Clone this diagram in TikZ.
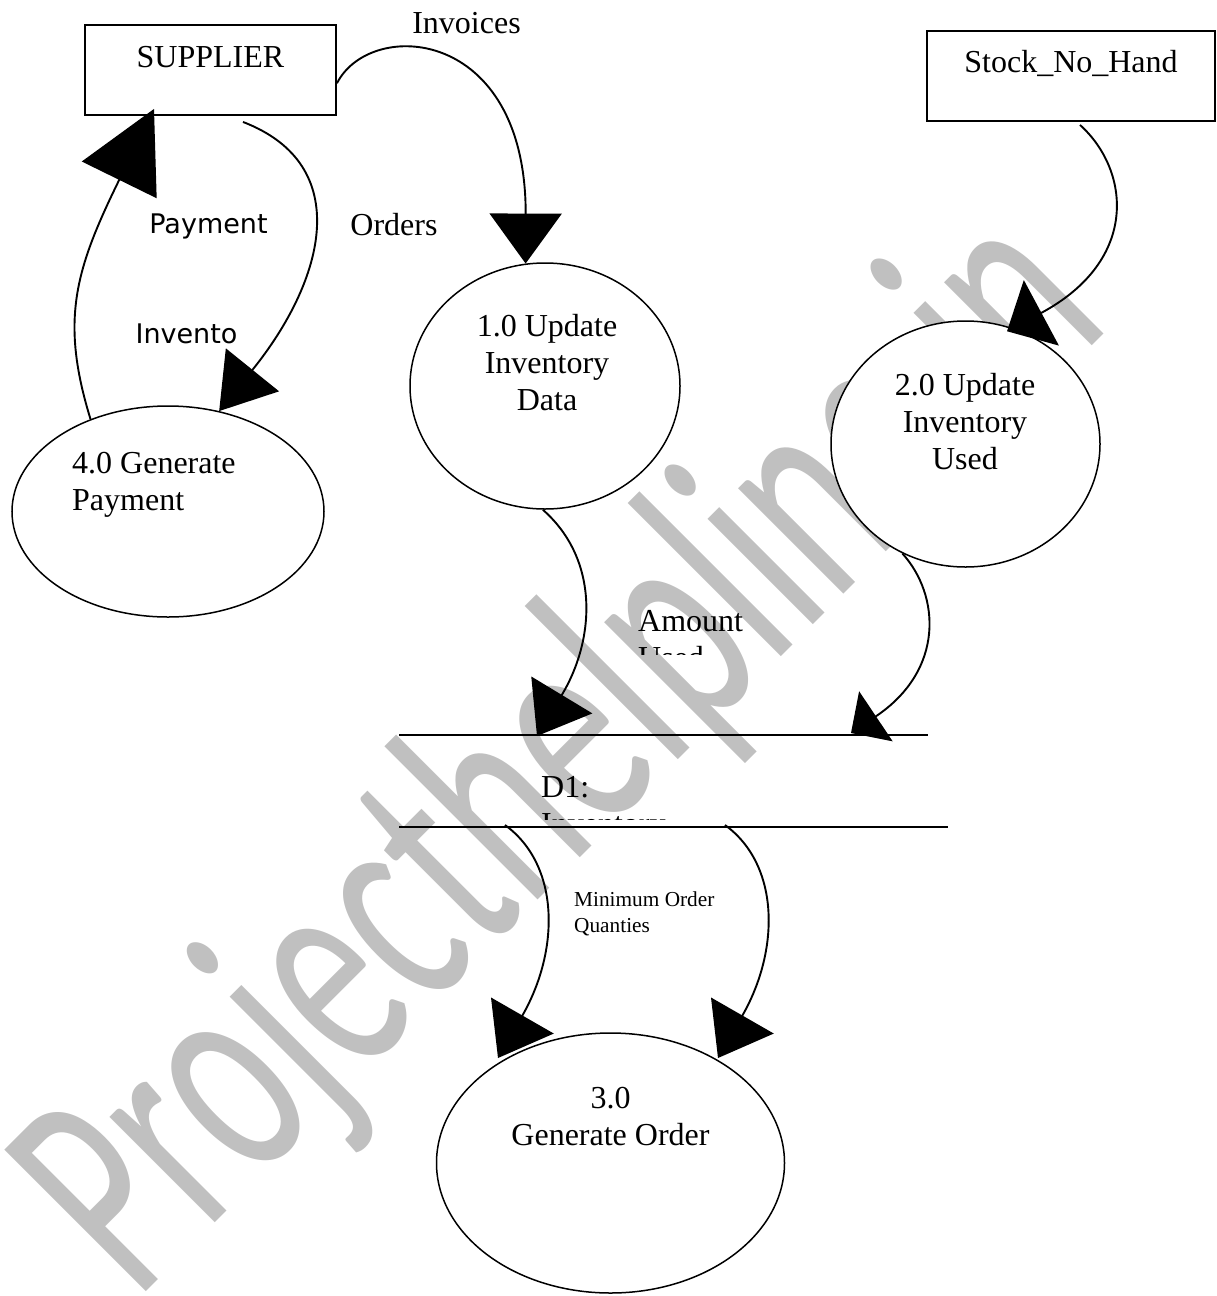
\documentclass[tikz,border=0pt]{standalone}
\usepackage{fontspec}
\setmainfont{Liberation Serif}
\newfontfamily\flowsans{DejaVu Sans}
\newfontfamily\markfont{Carlito}
\usetikzlibrary{arrows.meta,shapes.geometric,calc}
\definecolor{markgray}{RGB}{192,192,192}

\begin{document}
\begin{tikzpicture}[x=1pt,y=-1pt,
  proc/.style={ellipse, draw, fill=white, line width=1.5pt, inner sep=0pt},
  entity/.style={rectangle, draw, fill=white, line width=1.9pt, inner sep=0pt},
  flow/.style={line width=1.9pt},
  flowhead/.style 2 args={-{Triangle[length=#1,width=#2]}},
  txt/.style={inner sep=0pt, font=\fontsize{32}{37}\selectfont},
  sanstxt/.style={inner sep=0pt, font=\flowsans\fontsize{27}{32}\selectfont},
  smalltxt/.style={inner sep=0pt, font=\fontsize{21.3}{26}\selectfont},
]
\useasboundingbox (0,0) rectangle (1216,1296);

% background mark, lying under every shape
\node[font=\markfont\fontsize{312}{312}\selectfont, text=markgray,
      inner sep=0pt, anchor=base west, rotate=45, xscale=0.62]
      (mark) at (136,1302) {Projecthelpline.in};

% external entities
\node[entity, minimum width=251pt, minimum height=90pt] (supplier) at (210.5,70) {};
\node[txt, anchor=base] (supplierName) at (210.5,67) {SUPPLIER};
\node[entity, minimum width=288pt, minimum height=90pt] (stock) at (1071,76) {};
\node[txt, anchor=base] (stockName) at (1071,72) {Stock\_No\_Hand};

% processes
\node[proc, minimum width=270pt, minimum height=246pt] (p1) at (545,386) {};
\node[proc, minimum width=269pt, minimum height=246pt] (p2) at (965.5,444) {};
\node[proc, minimum width=312pt, minimum height=211pt] (p4) at (168,511.5) {};
\node[proc, minimum width=348pt, minimum height=260pt] (p3) at (610.5,1163) {};

\node[txt, anchor=base] (p1name) at (547,336)
  {\begin{tabular}[t]{@{}c@{}}1.0 Update\\Inventory\\Data\end{tabular}};
\node[txt, anchor=base] (p2name) at (965,395)
  {\begin{tabular}[t]{@{}c@{}}2.0 Update\\Inventory\\Used\end{tabular}};
\node[txt, anchor=base west] (p4name) at (72,473)
  {\begin{tabular}[t]{@{}l@{}}4.0 Generate\\Payment\end{tabular}};
\node[txt, anchor=base] (p3name) at (610.5,1108)
  {\begin{tabular}[t]{@{}c@{}}3.0\\Generate Order\end{tabular}};

% data store
\coordinate (dsTL) at (399,735);
\coordinate (dsTR) at (928,735);
\coordinate (dsBL) at (399,827);
\coordinate (dsBR) at (948,827);
\draw[flow] (dsTL) -- (dsTR);
\draw[flow] (dsBL) -- (dsBR);
\begin{scope}
  \clip (530,760) rectangle (700,819);
  \node[txt, anchor=base west] (storeName) at (541,797)
    {\begin{tabular}[t]{@{}l@{}}D1:\\Inventory\end{tabular}};
\end{scope}

% data flows
\draw[flow, flowhead={50pt}{72pt}] (supplier.354.5)
  .. controls (370,18) and (526,26) .. (p1.99.6);
\draw[flow, flowhead={53pt}{68pt}] ($(supplier.south)+(32.5,6)$)
  .. controls (355,165) and (325,280) .. (p4.63.8);
\draw[flow, flowhead={79pt}{83pt}] (p4.130)
  .. controls (60,320) and (75,270) .. ($(supplier.south)+(-56.5,-7)$);
\draw[flow, flowhead={39pt}{74pt}] ($(stock.south)+(9,3)$)
  .. controls (1130,170) and (1140,260) .. ($(p2.north)+(41.5,11)$);
\draw[flow, flowhead={48pt}{71pt}] (p1.269)
  .. controls (600,560) and (595,640) .. ($(dsTL)+(138,1)$);
\draw[flow, flowhead={30pt}{60pt}] (p2.240)
  .. controls (940,595) and (945,670) .. ($(dsTL)+(452,-2)$);
\draw[flow, flowhead={49pt}{72pt}] ($(dsBL)+(106,-2)$)
  .. controls (560,865) and (560,950) .. ($(p3.center)+(-112.5,-105)$);
\draw[flow, flowhead={49pt}{72pt}] ($(dsBL)+(326,-2)$)
  .. controls (780,865) and (780,950) .. ($(p3.center)+(107.5,-105)$);

% flow labels
\node[txt, anchor=base] (invoicesLbl) at (466.5,33) {Invoices};
\node[txt, anchor=base] (ordersLbl) at (394,235) {Orders};
\node[sanstxt, anchor=base] (paymentLbl) at (208.5,233) {Payment};
\node[sanstxt, anchor=base] (inventoLbl) at (186.5,343) {Invento};
\begin{scope}
  \clip (620,590) rectangle (800,654);
  \node[txt, anchor=base west] (usedLbl) at (638,631)
    {\begin{tabular}[t]{@{}l@{}}Amount\\Used\end{tabular}};
\end{scope}
\node[smalltxt, anchor=base west] (minLbl) at (574,906)
  {\begin{tabular}[t]{@{}l@{}}Minimum Order\\Quanties\end{tabular}};
\end{tikzpicture}
\end{document}
